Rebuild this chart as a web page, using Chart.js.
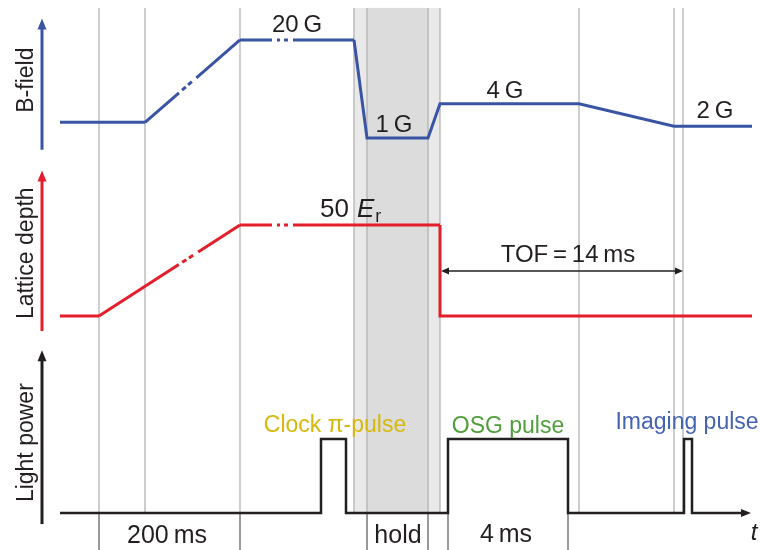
<!DOCTYPE html>
<html>
<head>
<meta charset="utf-8">
<script src="https://cdn.jsdelivr.net/npm/chart.js@4.4.1/dist/chart.umd.min.js"></script>
<style>
  html, body { margin: 0; padding: 0; background: #fff; }
  #sequenceCanvas { display: block; }
</style>
</head>
<body>
<canvas id="sequenceCanvas" width="760" height="550"></canvas>
<script>
// Sequence data (schematic time units along t, arbitrary levels per channel)
const bFieldTimes = [60, 145, 240, 354, 367, 428, 440, 579, 674, 752];
const bFieldLevels = [1.6, 1.6, 10, 10, 0, 0, 3.5, 3.5, 1.2, 1.2];

const latticeTimes = [60, 99, 240, 440, 440, 752];
const latticeLevels = [0, 0, 10, 10, 0, 0];

const lightTimes = [60, 321, 321, 346, 346, 448, 448, 568, 568, 684, 684, 692, 692, 745];
const lightLevels = [0, 0, 1, 1, 0, 0, 1, 1, 0, 0, 1, 1, 0, 0];

// vertical marker lines and the shaded ramp / hold windows
const markerTimes = [99, 145, 240, 354, 367, 428, 440, 579, 674, 683];
const bracketTimes = [99, 240, 367, 428, 448, 568];
const rampWindow = [354, 440];
const holdWindow = [367, 428];
const tofWindow = [441, 683];

// texts
const channelLabels = ['B-field', 'Lattice depth', 'Light power'];
const fieldLabels = ['20\u2009G', '1\u2009G', '4\u2009G', '2\u2009G'];
const latticeLabel = ['50', 'E', 'r'];
const tofLabel = 'TOF\u2009=\u200914\u2009ms';
const pulseLabels = ['Clock π-pulse', 'OSG pulse', 'Imaging pulse'];
const durationLabels = ['200\u2009ms', 'hold', '4\u2009ms'];

// layout of the texts: [t, level, pixel offset]
const fieldLabelAt = [[297, 10, -8], [394, 0, -6], [505, 3.5, -6], [715, 1.2, -8]];
const pulseLabelAt = [[335, 1, -7], [508, 1, -6], [687, 1, -10]];
const durationLabelAt = [[167, 0, 30], [398, 0, 30], [506, 0, 29]];
const pulseColors = ['#d6b80a', '#4f9e3b', '#4463b0'];

const FONT = "'Liberation Sans', Arial, Helvetica, sans-serif";
const BLUE = '#3a54a4';
const RED = '#e31f2b';
const BLACK = '#231f20';

// dashed breaks in the ramp and plateau ("not to scale")
const bFieldDash = {1: [45, 4, 5, 3, 5, 6, 400], 2: [32, 5, 3, 4, 4, 5, 400]};
const latticeDash = {1: [95, 4, 5, 3, 5, 6, 400], 2: [32, 5, 3, 4, 4, 5, 400]};

function toPoints(times, levels) {
    return times.map((t, i) => ({x: t, y: levels[i]}));
}

function arrowHead(ctx, tx, ty, dx, dy, len, half) {
    const bx = tx - dx * len, by = ty - dy * len;
    ctx.beginPath();
    ctx.moveTo(tx, ty);
    ctx.lineTo(bx - dy * half, by + dx * half);
    ctx.lineTo(bx + dy * half, by - dx * half);
    ctx.closePath();
    ctx.fill();
}

function verticalArrow(ctx, x, yFrom, yTo, color) {
    ctx.strokeStyle = color;
    ctx.fillStyle = color;
    ctx.lineWidth = 3;
    ctx.beginPath();
    ctx.moveTo(x, yFrom);
    ctx.lineTo(x, yTo + 8);
    ctx.stroke();
    arrowHead(ctx, x, yTo, 0, -1, 11, 4.5);
}

const sequenceDecor = {
    id: 'sequenceDecor',
    beforeDatasetsDraw(chart) {
        const {ctx, chartArea, scales: {x, yB, yP}} = chart;
        const top = yB.getPixelForValue(13.27);
        const base = yP.getPixelForValue(0);
        ctx.save();
        const r0 = x.getPixelForValue(rampWindow[0]), r1 = x.getPixelForValue(rampWindow[1]);
        const h0 = x.getPixelForValue(holdWindow[0]), h1 = x.getPixelForValue(holdWindow[1]);
        ctx.fillStyle = '#e9e9e9';
        ctx.fillRect(r0, top, r1 - r0, base - top);
        ctx.fillStyle = '#dcdcdc';
        ctx.fillRect(h0, top, h1 - h0, base - top);

        ctx.strokeStyle = '#b3b3b3';
        ctx.lineWidth = 1.3;
        markerTimes.forEach(t => {
            const px = x.getPixelForValue(t);
            ctx.beginPath();
            ctx.moveTo(px, top);
            ctx.lineTo(px, base);
            ctx.stroke();
        });
        ctx.strokeStyle = '#555555';
        ctx.lineWidth = 1.2;
        bracketTimes.forEach(t => {
            const px = x.getPixelForValue(t);
            ctx.beginPath();
            ctx.moveTo(px, base);
            ctx.lineTo(px, chartArea.bottom);
            ctx.stroke();
        });
        ctx.restore();
    },
    afterDatasetsDraw(chart) {
        const {ctx, scales: {x, yB, yL, yP}} = chart;
        ctx.save();

        // channel axes
        const ax = x.getPixelForValue(42);
        verticalArrow(ctx, ax, yB.getPixelForValue(-1.2), yB.getPixelForValue(12.2), BLUE);
        verticalArrow(ctx, ax, yL.getPixelForValue(-1.65), yL.getPixelForValue(16), RED);
        verticalArrow(ctx, ax, yP.getPixelForValue(-0.15), yP.getPixelForValue(2.2), BLACK);

        // time axis head
        ctx.fillStyle = BLACK;
        arrowHead(ctx, x.getPixelForValue(751), yP.getPixelForValue(0), 1, 0, 10, 4);

        // rotated channel names
        ctx.font = '23px ' + FONT;
        ctx.fillStyle = BLACK;
        ctx.textAlign = 'center';
        ctx.textBaseline = 'alphabetic';
        const nameY = [yB.getPixelForValue(5.9), yL.getPixelForValue(6.9), yP.getPixelForValue(0.95)];
        channelLabels.forEach((txt, i) => {
            ctx.save();
            ctx.translate(x.getPixelForValue(32.5), nameY[i]);
            ctx.rotate(-Math.PI / 2);
            ctx.fillText(txt, 0, 0);
            ctx.restore();
        });

        // field values
        ctx.font = '24px ' + FONT;
        fieldLabels.forEach((txt, i) => {
            const [t, lv, dy] = fieldLabelAt[i];
            ctx.fillText(txt, x.getPixelForValue(t), yB.getPixelForValue(lv) + dy);
        });

        // 50 E_r
        let lx = x.getPixelForValue(320);
        const ly = yL.getPixelForValue(10) - 8;
        ctx.textAlign = 'left';
        ctx.font = '26px ' + FONT;
        ctx.fillText(latticeLabel[0], lx, ly);
        lx += ctx.measureText(latticeLabel[0]).width + 8;
        ctx.font = 'italic 26px ' + FONT;
        ctx.fillText(latticeLabel[1], lx, ly);
        lx += ctx.measureText(latticeLabel[1]).width + 1;
        ctx.font = '18px ' + FONT;
        ctx.fillText(latticeLabel[2], lx, ly + 5);

        // TOF arrow
        const ty = yL.getPixelForValue(4.95);
        const t0 = x.getPixelForValue(tofWindow[0]), t1 = x.getPixelForValue(tofWindow[1]);
        ctx.strokeStyle = BLACK;
        ctx.fillStyle = BLACK;
        ctx.lineWidth = 1.5;
        ctx.beginPath();
        ctx.moveTo(t0 + 6, ty);
        ctx.lineTo(t1 - 6, ty);
        ctx.stroke();
        arrowHead(ctx, t0, ty, -1, 0, 8, 3.5);
        arrowHead(ctx, t1, ty, 1, 0, 8, 3.5);
        ctx.textAlign = 'center';
        ctx.font = '24px ' + FONT;
        ctx.fillText(tofLabel, x.getPixelForValue(568), ty - 9);

        // pulse names
        ctx.font = '23px ' + FONT;
        pulseLabels.forEach((txt, i) => {
            const [t, lv, dy] = pulseLabelAt[i];
            ctx.fillStyle = pulseColors[i];
            ctx.fillText(txt, x.getPixelForValue(t), yP.getPixelForValue(lv) + dy);
        });

        // durations under the time axis
        ctx.fillStyle = BLACK;
        ctx.font = '25px ' + FONT;
        durationLabels.forEach((txt, i) => {
            const [t, lv, dy] = durationLabelAt[i];
            ctx.fillText(txt, x.getPixelForValue(t), yP.getPixelForValue(lv) + dy);
        });
        ctx.font = 'italic 24px ' + FONT;
        ctx.fillText('t', x.getPixelForValue(754), yP.getPixelForValue(0) + 27);

        ctx.restore();
    }
};

const sequenceConfig = {
    type: 'line',
    data: {
        datasets: [{
            label: 'B-field',
            data: toPoints(bFieldTimes, bFieldLevels),
            yAxisID: 'yB',
            borderColor: BLUE,
            borderWidth: 3,
            segment: {borderDash: ctx => bFieldDash[ctx.p0DataIndex]}
        }, {
            label: 'Lattice depth',
            data: toPoints(latticeTimes, latticeLevels),
            yAxisID: 'yL',
            borderColor: RED,
            borderWidth: 3,
            segment: {borderDash: ctx => latticeDash[ctx.p0DataIndex]}
        }, {
            label: 'Light power',
            data: toPoints(lightTimes, lightLevels),
            yAxisID: 'yP',
            borderColor: BLACK,
            borderWidth: 2.5
        }]
    },
    options: {
        responsive: false,
        animation: false,
        layout: {padding: 0},
        elements: {
            point: {radius: 0},
            line: {tension: 0, fill: false, borderJoinStyle: 'miter', borderCapStyle: 'butt'}
        },
        plugins: {
            legend: {display: false},
            tooltip: {enabled: false}
        },
        scales: {
            x: {type: 'linear', min: 0, max: 760, display: false},
            yB: {type: 'linear', min: -42.04, max: 14.08, display: false},
            yL: {type: 'linear', min: -25.71, max: 34.73, display: false},
            yP: {type: 'linear', min: -0.5, max: 6.93, display: false}
        }
    },
    plugins: [sequenceDecor]
};

const sequenceChart = new Chart(document.getElementById('sequenceCanvas').getContext('2d'), sequenceConfig);
</script>
</body>
</html>
